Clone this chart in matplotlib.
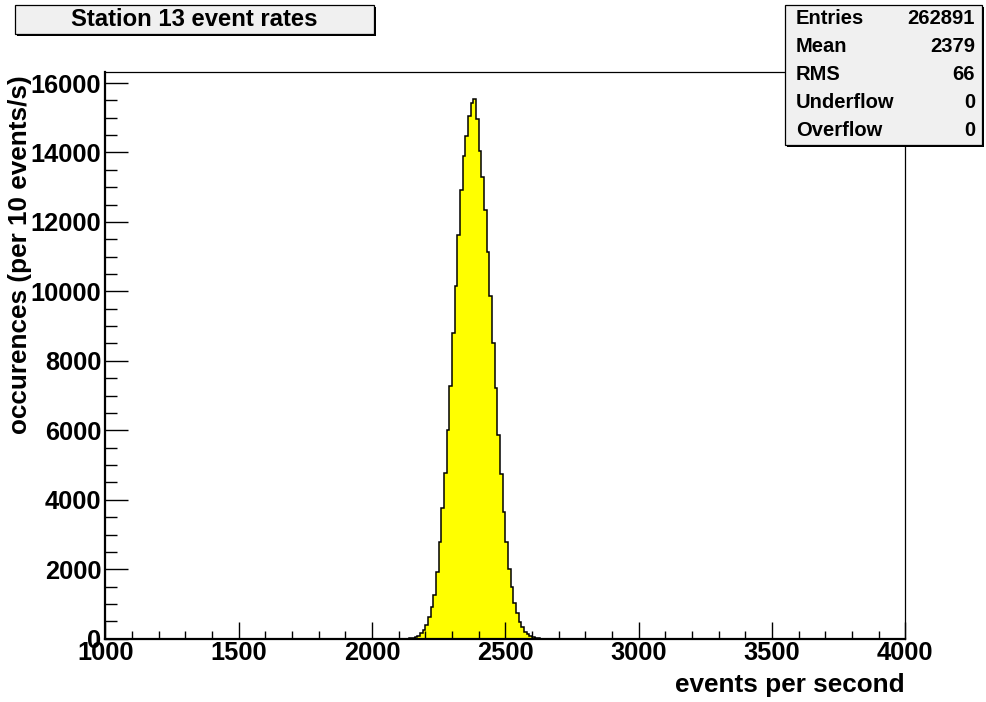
import numpy as np
import matplotlib.pyplot as plt
from matplotlib.patches import Rectangle

plt.rcParams['font.family'] = ['Liberation Sans', 'DejaVu Sans']
plt.rcParams['font.weight'] = 'bold'

# rate histogram, 10 events/s per bin; only non-empty bins listed
bin_starts = [2140, 2150, 2160, 2170, 2180, 2190, 2200, 2210, 2220, 2230,
              2240, 2250, 2260, 2270, 2280, 2290, 2300, 2310, 2320, 2330,
              2340, 2350, 2360, 2370, 2380, 2390, 2400, 2410, 2420, 2430,
              2440, 2450, 2460, 2470, 2480, 2490, 2500, 2510, 2520, 2530,
              2540, 2550, 2560, 2570, 2580, 2590, 2600, 2610, 2620]
counts = [10, 20, 40, 86, 155, 251, 395, 634, 922, 1259,
          1931, 2795, 3757, 4765, 6013, 7280, 8799, 10141, 11631, 12927,
          13887, 14463, 15040, 15425, 15540, 14963, 14031, 13293, 12351, 11121,
          9853, 8528, 7214, 5860, 4745, 3659, 2795, 1999, 1498, 1019,
          749, 490, 328, 202, 135, 78, 40, 20, 10]

stat_names = ['Entries', 'Mean', 'RMS', 'Underflow', 'Overflow']
stat_values = ['262891', '2379', '66', '0', '0']

title = 'Station 13 event rates'
xlabel = 'events per second'
ylabel = 'occurences (per 10 events/s)'

x_lo, x_hi, width = 1000, 4000, 10
edges = np.arange(x_lo, x_hi + width, width)
values = np.zeros(len(edges) - 1)
for b, c in zip(bin_starts, counts):
    values[(b - x_lo) // width] = c

W, H = 986, 702
fig = plt.figure(figsize=(W / 100, H / 100), dpi=100)
fig.patch.set_facecolor('white')

def fx(px):
    return px / W

def fy(py):
    return 1 - py / H

ax = fig.add_axes([fx(105.3), fy(638.7), fx(905.3) - fx(105.3), fy(72) - fy(638.7)])
ax.stairs(values, edges, fill=True, color='#ffff00', lw=0)
ax.stairs(values, edges, color='black', lw=1.1)
ax.set_xlim(x_lo, x_hi)
ax.set_ylim(0, 1.05 * max(counts))

ax.set_xticks(np.arange(1000, 4001, 500))
ax.set_xticks(np.arange(1000, 4001, 100), minor=True)
ax.set_yticks(np.arange(0, 16001, 2000))
ax.set_yticks(np.arange(0, 16001, 500), minor=True)
ax.tick_params(which='both', direction='in', top=False, right=False,
               labelsize=18.3, width=1)
ax.tick_params(axis='x', which='major', length=12.2, pad=2)
ax.tick_params(axis='x', which='minor', length=6.1)
ax.tick_params(axis='y', which='major', length=16.6, pad=3)
ax.tick_params(axis='y', which='minor', length=8.6)
for lab in ax.get_xticklabels() + ax.get_yticklabels():
    lab.set_fontweight('bold')

for side in ['left', 'bottom']:
    ax.spines[side].set_linewidth(1.6)
for side in ['top', 'right']:
    ax.spines[side].set_linewidth(0.9)

fig.text(fx(905), fy(685), xlabel, ha='right', va='center',
         fontsize=18.8, fontweight='bold')
fig.text(fx(20), fy(75), ylabel, ha='center', va='top', rotation=90,
         fontsize=18.8, fontweight='bold')

def box(x0, y0, x1, y1):
    # shadowed frame, ROOT pave style
    fig.patches.append(Rectangle((fx(x0 + 2), fy(y1 + 2)), fx(x1 - x0), fy(y0) - fy(y1),
                                 transform=fig.transFigure, facecolor='black',
                                 edgecolor='none', zorder=5))
    fig.patches.append(Rectangle((fx(x0), fy(y1)), fx(x1 - x0), fy(y0) - fy(y1),
                                 transform=fig.transFigure, facecolor='#f0f0f0',
                                 edgecolor='black', lw=0.9, zorder=6))

box(15, 5, 374, 34)
fig.text(fx(194), fy(19.5), title, ha='center', va='center', fontsize=17.2,
         fontweight='bold', zorder=7)

box(785, 5, 982, 145)
row_h = 140 / len(stat_names)
for i, (n, v) in enumerate(zip(stat_names, stat_values)):
    yc = 5 + (i + 0.5) * row_h
    fig.text(fx(796), fy(yc), n, ha='left', va='center', fontsize=14.5,
             fontweight='bold', zorder=7)
    fig.text(fx(975), fy(yc), v, ha='right', va='center', fontsize=14.5,
             fontweight='bold', zorder=7)

fig.savefig('out.png', dpi=100)
